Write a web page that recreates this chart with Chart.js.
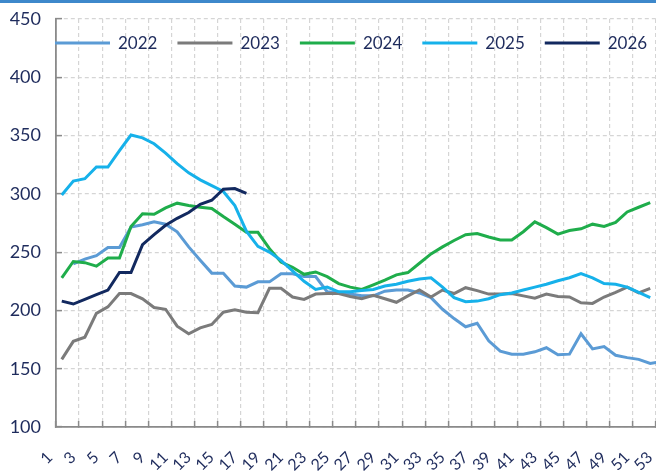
<!DOCTYPE html>
<html>
<head>
<meta charset="utf-8">
<script src="https://cdn.jsdelivr.net/npm/chart.js@4.4.1/dist/chart.umd.min.js"></script>
<style>
html,body{margin:0;padding:0;background:#fff;overflow:hidden;}
#wrap{width:656px;height:474px;position:relative;}
</style>
</head>
<body>
<div id="wrap"><canvas id="c" width="656" height="474"></canvas></div>
<script>
// ---- data ----
const weeks = Array.from({length: 53}, (_, i) => i + 1);
const tickLabels = ['1','3','5','7','9','11','13','15','17','19','21','23','25','27','29','31','33','35','37','39','41','43','45','47','49','51','53'];
const yTicks = [100,150,200,250,300,350,400,450];
const seriesNames = ['2022','2023','2024','2025','2026'];

const y2022 = [null,240,244,247,254,254,271.5,273.5,276,274,267.5,254.5,243,232,232,221,220,224.5,224.5,231.5,
  231.5,229,229,216,215,214,212.5,212.5,216.5,217.5,217.5,215,211,201,193,186,189,174,165,162.5,
  162.5,164.5,168,162,162.5,180,167,169,161.5,159.5,158,154.5,156];
const y2023 = [158,173.5,177,197.5,203,214.5,214.5,210,202.5,201,186.5,180,185,188,198.5,200.5,198.5,198,219,219,
  211.5,209.5,214,214.5,214.5,212,210,213,210,207,212.5,217.5,211.5,217.5,214.5,219.5,217,214,214,214.5,
  212.5,210.5,214,212,211.5,206.5,206,211.5,215.5,220,215,219,null];
const y2024 = [228,242,241,238,245,245,272,283,282.5,288,292,290,288.5,287.5,280.5,274,267,267,253,241.5,
  237,231,233,229,223,220,218,222,226,230.5,232.5,240.5,248.5,254.5,260,265,266,263,260.5,260.5,
  267.5,276,271,265.5,268.5,270,274,272,275.5,284.5,288.5,292.5,null];
const y2025 = [299,311,313,323,323,337,350.5,348,343,335,326,318,312,307,302,290,268,255,250,243,
  234,225,218,220,216,216,217,218,221,222.5,225,227,228,220,211,207.5,208,210,213.5,215,
  217.5,220,222.5,225.5,228,231.5,228,223,222.5,220,215.5,211,null];
const y2026 = [208,205.5,209.5,213.5,217.5,232.5,232.5,256.5,265,273,279,284,291,294.5,304,304.5,300.5];

const seriesValues = [y2022, y2023, y2024, y2025, y2026];
const seriesColors = ['#5b9bd5', '#7b7b7b', '#1fad4b', '#16b1ea', '#12295f'];

// ---- styling ----
const NAVY = '#1e2b5c';
const GRID = '#d5d5d5';
const AXIS = '#8a8a8a';
Chart.defaults.font.family = 'Lato, "Open Sans", sans-serif';

// tick positions sit on category boundaries, every second week
const tickPos = tickLabels.map(l => Number(l) - 0.5);

const datasets = seriesNames.map((name, k) => ({
  label: name,
  data: weeks.slice(0, seriesValues[k].length).map((w, i) => ({x: w, y: seriesValues[k][i]})),
  borderColor: seriesColors[k],
  backgroundColor: seriesColors[k],
  borderWidth: 3,
  pointRadius: 0,
  tension: 0,
  fill: false,
  order: seriesNames.length - k
}));

const topDecor = {
  id: 'topDecor',
  afterDraw(chart) {
    const ctx = chart.ctx;
    ctx.save();
    ctx.fillStyle = '#3d88cb';
    ctx.fillRect(0, 0, chart.width, 3);
    ctx.font = '17px Lato, "Open Sans", sans-serif';
    ctx.textBaseline = 'middle';
    let x = 55;
    const y = 43;
    chart.data.datasets.forEach(ds => {
      ctx.strokeStyle = ds.borderColor;
      ctx.lineWidth = 3;
      ctx.beginPath();
      ctx.moveTo(x, y);
      ctx.lineTo(x + 55, y);
      ctx.stroke();
      x += 55 + 8;
      ctx.fillStyle = NAVY;
      ctx.fillText(ds.label, x, y + 1);
      x += ctx.measureText(ds.label).width + 20;
    });
    ctx.restore();
  }
};

new Chart(document.getElementById('c'), {
  type: 'line',
  data: { datasets },
  options: {
    responsive: false,
    animation: false,
    devicePixelRatio: 1,
    layout: { padding: { top: 19, left: 0, right: 0, bottom: 0 } },
    plugins: { legend: { display: false }, tooltip: { enabled: false } },
    scales: {
      x: {
        type: 'linear',
        min: 0.5,
        max: 52.5,
        afterBuildTicks: s => { s.ticks = tickPos.map(v => ({ value: v })); },
        afterFit: s => { s.height = 47; s.paddingLeft = 0; s.paddingRight = 0; s.paddingTop = 0; s.paddingBottom = 0; },
        ticks: {
          autoSkip: false,
          minRotation: 45,
          maxRotation: 45,
          padding: 27,
          labelOffset: -6,
          color: NAVY,
          font: { size: 16 },
          callback: (v, i) => tickLabels[i]
        },
        grid: {
          color: GRID,
          lineWidth: 1.2,
          tickLength: -6,
          tickColor: AXIS,
          tickWidth: 1.5,
          tickBorderDash: []
        },
        border: { display: true, color: AXIS, width: 1.8, dash: [4, 3] }
      },
      y: {
        min: 100,
        max: 450,
        afterBuildTicks: s => { s.ticks = yTicks.map(v => ({ value: v })); },
        afterFit: s => { s.width = 56; s.paddingTop = 0; s.paddingBottom = 0; s.paddingLeft = 0; s.paddingRight = 0; },
        ticks: {
          padding: 21,
          color: NAVY,
          font: { size: 18 }
        },
        grid: {
          color: GRID,
          lineWidth: 1.2,
          tickLength: -6,
          tickColor: AXIS,
          tickWidth: 1.5,
          tickBorderDash: []
        },
        border: { display: true, color: AXIS, width: 1.8, dash: [4, 3] }
      }
    }
  },
  plugins: [topDecor]
});
</script>
</body>
</html>
